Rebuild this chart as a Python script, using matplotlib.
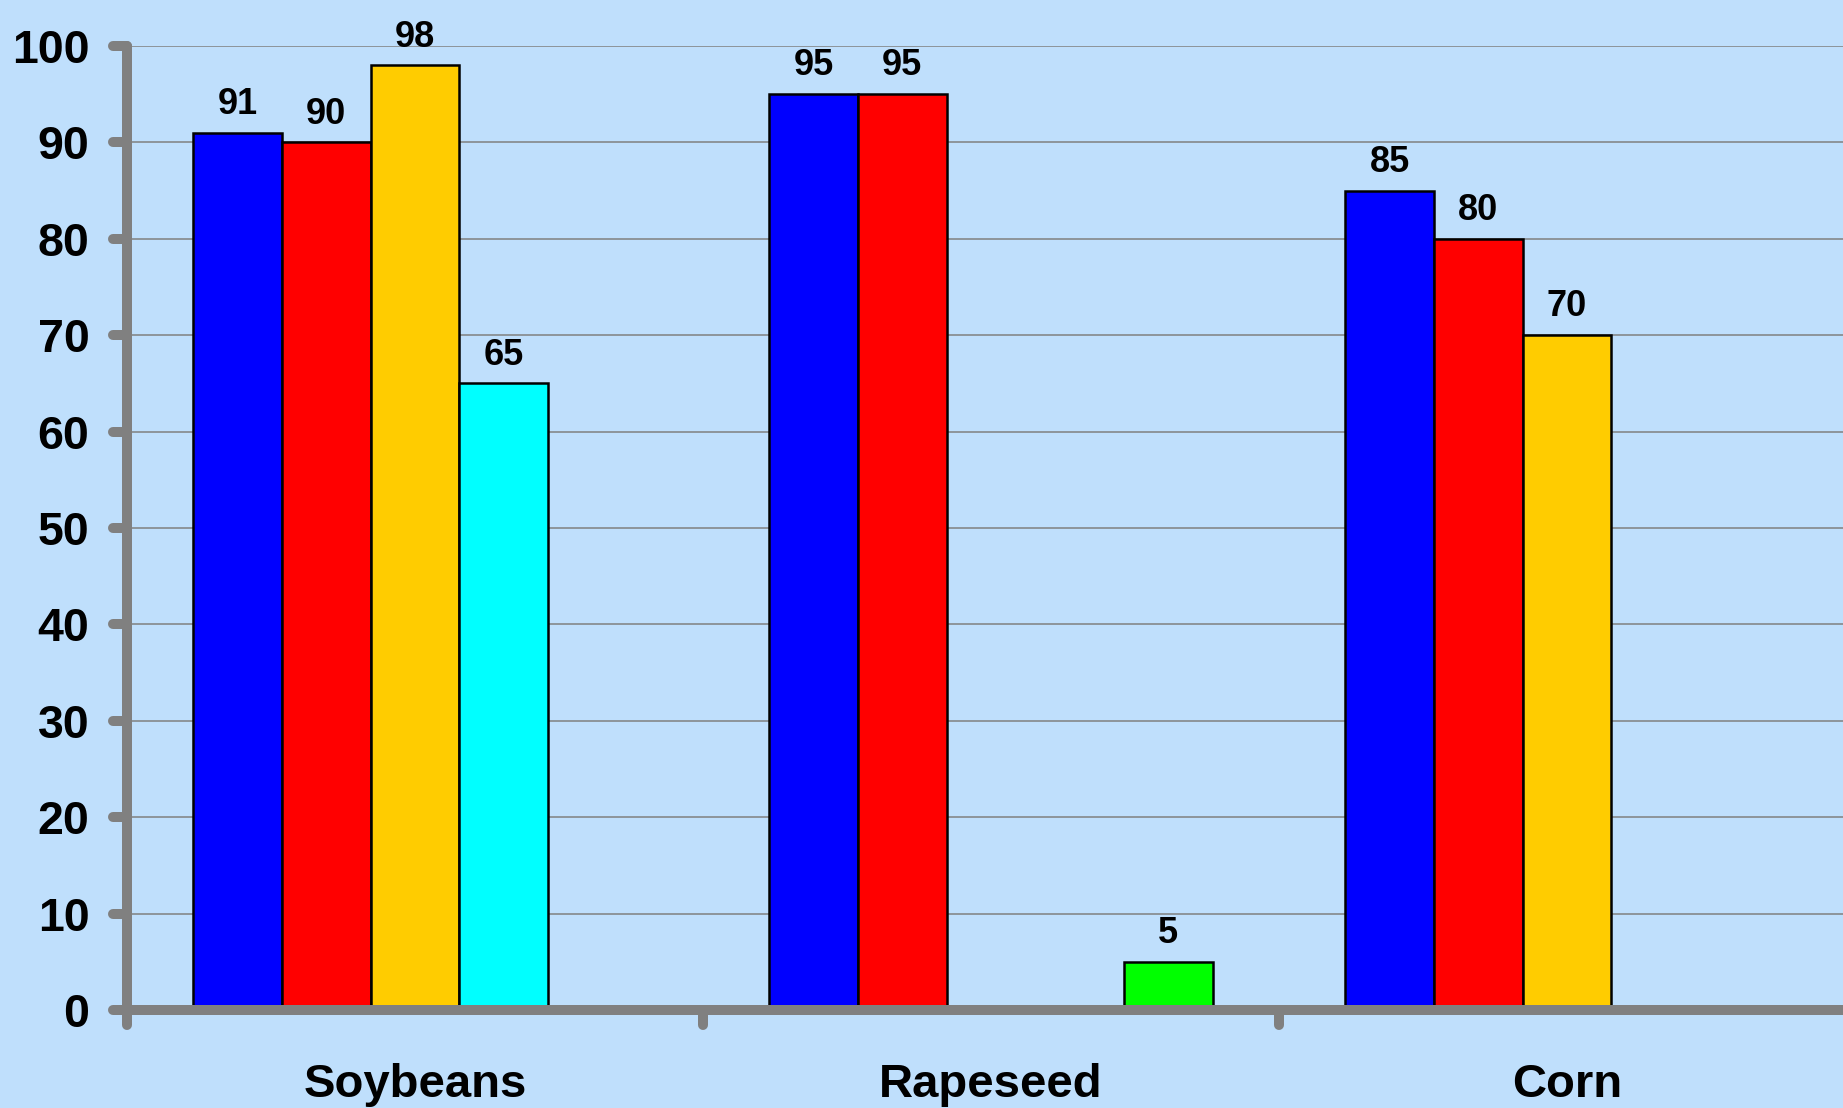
import numpy as np
import matplotlib
matplotlib.use("Agg")
import matplotlib.pyplot as plt
import matplotlib.lines as mlines
from matplotlib.markers import MarkerStyle

categories = ["Soybeans", "Rapeseed", "Corn"]
series_blue = [91, 95, 85]
series_red = [90, 95, 80]
series_yellow = [98, np.nan, 70]
series_cyan = [65, np.nan, np.nan]
series_green = [np.nan, 5, np.nan]
yticks = [0, 10, 20, 30, 40, 50, 60, 70, 80, 90, 100]

series = [series_blue, series_red, series_yellow, series_cyan, series_green]
colors = ["#0000FF", "#FF0000", "#FFCC00", "#00FFFF", "#00FF00"]

plt.rcParams['font.family'] = ['Liberation Sans', 'DejaVu Sans']
bg = "#BFDFFC"
fig = plt.figure(figsize=(18.43, 11.08), dpi=100, facecolor=bg)
ax = fig.add_axes([127/1843, 98/1108, (1855-127)/1843, (1062-98)/1108])
ax.set_facecolor(bg)

n = len(series)
bw = 0.154
centers = np.arange(len(categories)) + 0.5
for i, (vals, col) in enumerate(zip(series, colors)):
    x = centers + (i - (n - 1) / 2) * bw
    v = np.array(vals, dtype=float)
    ax.bar(x, v, width=bw, color=col, edgecolor="black", linewidth=1.8, zorder=3)
    for xi, vi in zip(x, v):
        if not np.isnan(vi):
            ax.annotate(f"{vi:g}", (xi, vi), xytext=(0, 13.5), textcoords="offset points",
                        ha="center", va="baseline", fontsize=26, fontweight="bold", zorder=4)

ax.set_xlim(0, 3)
ax.set_ylim(0, 100)
ax.set_yticks(yticks)
ax.set_yticklabels([str(t) for t in yticks], fontsize=33.5, fontweight="bold")
ax.set_xticks([0, 1, 2, 3])
ax.set_xticklabels([])
ax.set_xticks(centers, minor=True)
ax.set_xticklabels(categories, minor=True, fontsize=34, fontweight="bold")
ax.tick_params(axis="x", which="minor", length=0, pad=38)
ax.tick_params(axis="x", which="major", length=11, width=7.2, color="#808080", direction="out")
ax.tick_params(axis="y", which="major", length=10, width=7.2, color="#808080", direction="out", pad=17)

ax.yaxis.grid(True, color="#808080", linewidth=1.1, zorder=0)
ax.set_axisbelow(True)

for s in ["top", "right"]:
    ax.spines[s].set_visible(False)
for s in ["left", "bottom"]:
    ax.spines[s].set_color("#808080")
    ax.spines[s].set_linewidth(7.2)
    ax.spines[s].set_capstyle("round")
    ax.spines[s].set_zorder(5)

for t in ax.yaxis.get_major_ticks():
    t.tick1line.set_marker(MarkerStyle(mlines.TICKLEFT, capstyle="round"))
for t in ax.xaxis.get_major_ticks():
    t.tick1line.set_marker(MarkerStyle(mlines.TICKDOWN, capstyle="round"))

fig.savefig("out.png", dpi=100, facecolor=bg)
